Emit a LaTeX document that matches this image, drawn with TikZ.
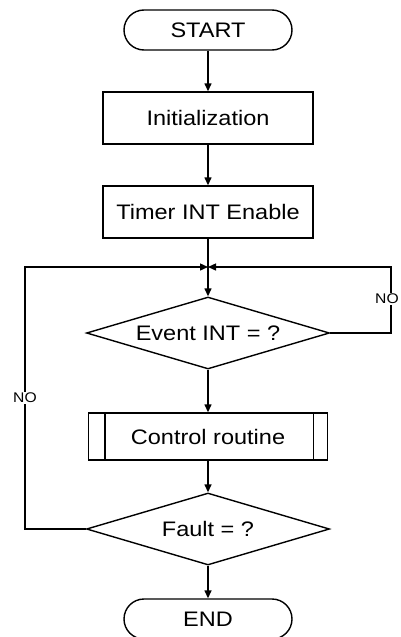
\documentclass[tikz,border=0pt]{standalone}
\usepackage{fontspec}
\setmainfont{Liberation Sans}[FakeStretch=1.12]
\usetikzlibrary{arrows.meta,shapes.geometric}
\begin{document}
\begin{tikzpicture}[x=1pt,y=-1pt,
  line width=1.4pt,
  every node/.style={font=\fontsize{21}{24}\selectfont},
  term/.style={draw,rectangle,rounded corners=20pt,minimum width=168pt,minimum height=40pt,inner sep=0pt},
  proc/.style={draw,rectangle,minimum width=210pt,minimum height=52pt,inner sep=0pt},
  dec/.style={draw,diamond,shape aspect=3.375,minimum width=243pt,minimum height=72pt,inner sep=0pt},
  arr/.style={-{Triangle[length=8pt,width=7pt]}},
  lbl/.style={fill=white,font=\fontsize{14}{16}\selectfont,inner sep=1.5pt}]
\useasboundingbox (0,0) rectangle (400,637);
\node[term] (start) at (208,30) {START};
\node[proc] (init) at (208,118) {Initialization};
\node[proc] (timer) at (208,212) {Timer INT Enable};
\coordinate (m) at (208,267);
\coordinate (lc) at (25,267);
\coordinate (rc) at (391,267);
\node[dec] (event) at (208,333) {Event INT = ?};
\node[proc, minimum width=239pt, minimum height=47pt] (ctrl) at (208,436.5) {Control routine};
\draw ([xshift=17pt]ctrl.north west) -- ([xshift=17pt]ctrl.south west);
\draw ([xshift=-15pt]ctrl.north east) -- ([xshift=-15pt]ctrl.south east);
\node[dec] (fault) at (208,529) {Fault = ?};
\node[term] (end) at (208,619) {END};
\draw[arr] (start) -- (init);
\draw[arr] (init) -- (timer);
\draw (timer) -- (m);
\draw[arr] (m) -- (event);
\draw[arr] (event) -- (ctrl);
\draw[arr] (ctrl) -- (fault);
\draw[arr] (fault) -- (end);
\draw[arr] (fault.west) -| (lc) -- (m);
\draw[arr] (event.east) -| (rc) -- (m);
\node[lbl] (no1) at (25,398) {NO};
\node[lbl] (no2) at (387,299) {NO};
\end{tikzpicture}
\end{document}
